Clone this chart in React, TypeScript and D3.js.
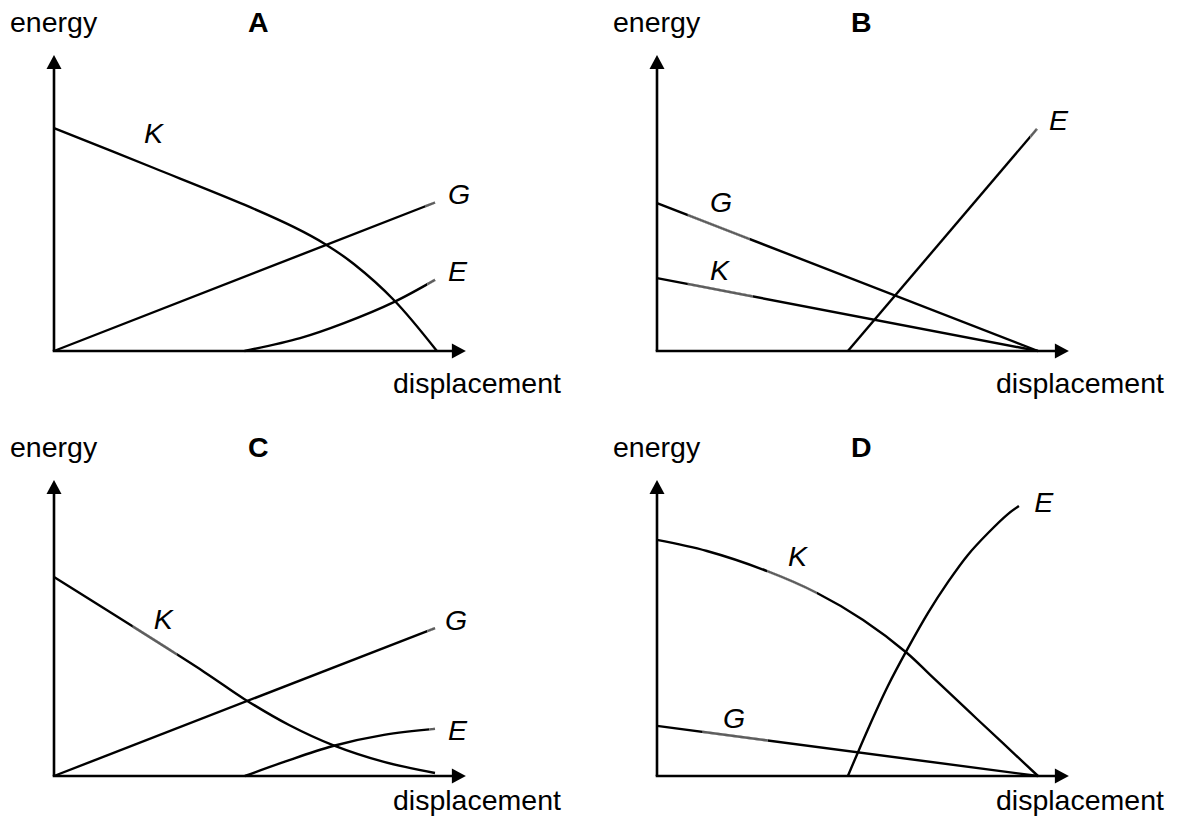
import React from "react";
import * as d3 from "d3";

// ---- data (x: displacement units 0..10, y: energy units 0..10) ----
const panelIds = ["A", "B", "C", "D"];
const axisLabelY = "energy";
const axisLabelX = "displacement";
const axisMaxX = 10.81;
const axisMaxY = 9.87;

const kA: [number, number][] = [[0, 7.43], [2.62, 6.1], [5.01, 4.87], [6.3, 4.13], [7.11, 3.57], [7.87, 2.9], [8.92, 1.7], [10.05, 0]];
const gA: [number, number][] = [[0, 0], [10, 4.95]];
const eA: [number, number][] = [[5.0, 0], [6.46, 0.43], [7.61, 0.93], [8.92, 1.63], [10.0, 2.37]];

const gB: [number, number][] = [[0, 4.93], [10, 0]];
const kB: [number, number][] = [[0, 2.43], [10, 0]];
const eB: [number, number][] = [[5.01, 0], [9.97, 7.4]];

const kC: [number, number][] = [[0, 6.63], [3.94, 3.47], [4.99, 2.57], [6.17, 1.7], [7.32, 1.03], [8.66, 0.47], [10.0, 0.1]];
const gC: [number, number][] = [[0, 0], [10, 4.93]];
const eC: [number, number][] = [[5.01, 0], [6.04, 0.47], [7.32, 1.0], [8.66, 1.37], [10.0, 1.57]];

const kD: [number, number][] = [[0, 7.87], [1.31, 7.5], [2.89, 6.83], [4.2, 6.1], [5.41, 5.2], [6.56, 4.1], [7.17, 3.37], [8.4, 1.9], [10.0, 0]];
const gD: [number, number][] = [[0, 1.67], [10, 0]];
const eD: [number, number][] = [[5.01, 0], [5.54, 1.57], [6.06, 3.0], [6.59, 4.27], [7.11, 5.43], [7.64, 6.47], [8.16, 7.37], [8.69, 8.1], [9.21, 8.73], [9.5, 9.0]];

// curve names and their label anchor points (data units)
const seriesNames = ["K", "G", "E"];
const curvesByPanel = [
  [kA, gA, eA],
  [kB, gB, eB],
  [kC, gC, eC],
  [kD, gD, eD],
];
const labelPosByPanel: [number, number][][] = [
  [[2.36, 6.93], [10.34, 4.9], [10.34, 2.33]],
  [[1.39, 2.37], [1.39, 4.63], [10.29, 7.37]],
  [[2.62, 4.9], [10.26, 4.87], [10.34, 1.2]],
  [[3.44, 7.0], [1.73, 1.6], [9.9, 8.8]],
];
// greyish stretches of the lines near their labels: [series index, x from, x to]
const greyByPanel: [number, number, number][][] = [
  [[1, 9.74, 10], [2, 9.8, 10]],
  [[1, 0.81, 2.44], [0, 0.81, 2.52], [2, 9.8, 9.97]],
  [[0, 2.07, 3.23], [1, 9.8, 10], [2, 9.85, 10]],
  [[0, 2.89, 4.2], [1, 1.2, 2.9]],
];

// layout
const W = 1180;
const H = 821;
const origins: [number, number][] = [[54, 351], [657, 351], [54, 776], [657, 776]];
const pxX = 381; // px for 10 units
const pxY = 300; // px for 10 units
const FONT = "'Liberation Sans', Arial, Helvetica, sans-serif";
const FS = 28.5;

function Panel({ idx }: { idx: number }) {
  const [ox, oy] = origins[idx];
  const x = d3.scaleLinear().domain([0, 10]).range([ox, ox + pxX]);
  const y = d3.scaleLinear().domain([0, 10]).range([oy, oy - pxY]);
  const line = d3
    .line<[number, number]>()
    .x((d) => x(d[0]))
    .y((d) => y(d[1]))
    .curve(d3.curveCatmullRom.alpha(0.5));
  const lineStraight = d3
    .line<[number, number]>()
    .x((d) => x(d[0]))
    .y((d) => y(d[1]));
  const pathOf = (pts: [number, number][]) => (pts.length === 2 ? lineStraight(pts) : line(pts)) || "";

  const tipY = y(axisMaxY);
  const tipX = x(axisMaxX);
  const ah = 14;
  const aw = 7.5;
  const rowTop = idx < 2 ? 0 : 425;
  const colLeft = idx % 2 === 0 ? 0 : 603;

  return (
    <g>
      <defs>
        {greyByPanel[idx].map((g, j) => (
          <clipPath id={`gclip-${idx}-${j}`} key={j}>
            <rect x={x(g[1])} y={y(10.5)} width={x(g[2]) - x(g[1])} height={y(-0.5) - y(10.5)} />
          </clipPath>
        ))}
      </defs>
      {/* axes */}
      <line x1={x(0)} y1={y(0)} x2={x(0)} y2={tipY + ah - 1} stroke="#000" strokeWidth={2.6} />
      <line x1={x(0) - 1.3} y1={y(0)} x2={tipX - ah + 1} y2={y(0)} stroke="#000" strokeWidth={2.6} />
      <path d={`M${x(0)},${tipY} L${x(0) - aw},${tipY + ah} L${x(0) + aw},${tipY + ah} Z`} fill="#000" />
      <path d={`M${tipX},${y(0)} L${tipX - ah},${y(0) - aw} L${tipX - ah},${y(0) + aw} Z`} fill="#000" />
      {/* curves */}
      {curvesByPanel[idx].map((pts, i) => (
        <path key={i} d={pathOf(pts)} fill="none" stroke="#000" strokeWidth={2.4} />
      ))}
      {/* grey stretches */}
      {greyByPanel[idx].map((g, j) => (
        <path
          key={`g${j}`}
          d={pathOf(curvesByPanel[idx][g[0]])}
          fill="none"
          stroke="#fff"
          strokeWidth={3}
          clipPath={`url(#gclip-${idx}-${j})`}
        />
      ))}
      {greyByPanel[idx].map((g, j) => (
        <path
          key={`h${j}`}
          d={pathOf(curvesByPanel[idx][g[0]])}
          fill="none"
          stroke="#5e5e5e"
          strokeWidth={2.4}
          clipPath={`url(#gclip-${idx}-${j})`}
        />
      ))}
      {/* curve labels */}
      {labelPosByPanel[idx].map((p, i) => (
        <text key={i} x={x(p[0])} y={y(p[1])} fontFamily={FONT} fontSize={FS} fontStyle="italic" fill="#000">
          {seriesNames[i]}
        </text>
      ))}
      {/* texts */}
      <text x={colLeft + 10} y={rowTop + 32} fontFamily={FONT} fontSize={FS} fill="#000">
        {axisLabelY}
      </text>
      <text x={colLeft + 248} y={rowTop + 32} fontFamily={FONT} fontSize={FS} fontWeight="bold" fill="#000">
        {panelIds[idx]}
      </text>
      <text x={colLeft + 393} y={idx < 2 ? 393 : 810} fontFamily={FONT} fontSize={FS} fill="#000">
        {axisLabelX}
      </text>
    </g>
  );
}

export default function App() {
  return (
    <svg
      width={W}
      height={H}
      viewBox={`0 0 ${W} ${H}`}
      style={{ position: "absolute", left: 0, top: 0, background: "#fff" }}
    >
      <rect x={0} y={0} width={W} height={H} fill="#fff" />
      {panelIds.map((_, i) => (
        <Panel key={i} idx={i} />
      ))}
    </svg>
  );
}
